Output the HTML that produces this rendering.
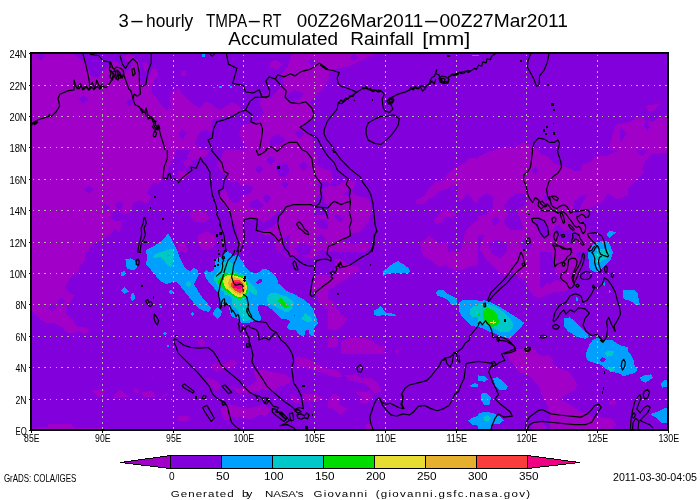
<!DOCTYPE html>
<html><head><meta charset="utf-8"><title>3-hourly TMPA-RT Accumulated Rainfall</title>
<style>html,body{margin:0;padding:0;background:#fff;overflow:hidden}svg{display:block}text{font-family:"Liberation Sans",sans-serif;fill:#000}</style></head>
<body>
<svg width="700" height="500" viewBox="0 0 700 500">
<rect width="700" height="500" fill="#fff"/>
<defs><filter id="nf" filterUnits="userSpaceOnUse" x="0" y="0" width="700" height="500"><feOffset dx="0" dy="0"/></filter><clipPath id="mc"><rect x="32" y="54" width="635" height="375"/></clipPath></defs>
<g clip-path="url(#mc)">
<rect x="30" y="52" width="640" height="380" fill="#8200dc"/>
<g shape-rendering="crispEdges">
<path fill="#a000c8" d="M28 48L178 48 178 150 28 150ZM28 150L178 150 178 252 28 252ZM478 150L628 150 628 252 478 252Z"/>
<path fill="#8200dc" d="M36.1 56.1L40.9 53.4 45.6 56.1 40.9 60.4ZM71.9 52.7L178 52.7 178 88.7 173.7 90.9 169.4 99.4 171.6 105.9 167.3 110.6 160.9 104.8 156.6 97.3 150.1 91.9 154.4 80.1 158.7 75.9 156.6 69.4 152.3 68.4 149.1 75.9 145.9 83.4 141.6 84.9 139.4 78 140.5 65.1 137.3 58.7 133 60.9 129.8 68.4 125.5 71.6 120.1 64.1 113.7 60.9 107.3 67.3 101.9 71.6 98.7 78 91.2 75.9 88 69.4 85.9 61.9 78.4 57.6ZM78.4 99.4L83.3 95.1 88 99.4 83.3 103.3ZM125.5 102.6L129.8 98.4 134.1 102.6 129.8 106.9Z"/>
<path fill="#a000c8" d="M122.3 57.6L128.7 54.4 135.1 57.6 128.7 63ZM142.6 64.1L146.9 60.9 148 68.4 144.8 71.6Z"/>
<path fill="#8200dc" d="M178 150L178 252 88 252 92.3 244.3 98.7 242.1 105.1 237.9 110.5 234.6 114.8 228.2 119.1 232.5 122.3 225 120.1 220.7 113.7 220.7 110.5 216.4 113.7 212.1 118 208.9 114.8 204.6 120.1 200.4 123.4 204.6 120.1 211.1 124.4 214.3 130.9 212.1 133 203.6 139.4 200.4 146.9 203.6 151.2 198.2 146.9 192.9 153.4 182.1 158.7 184.3 165.1 177.9 170.5 163.9 173.7 158.6 175.9 150ZM83.3 189.6L88.6 185.8 94 189.6 88.6 193.5ZM101.9 207.4L106.2 203.6 110.5 207.4 106.2 211.7Z"/>
<path fill="#a000c8" d="M178 48L328 48 328 150 178 150Z"/>
<path fill="#8200dc" d="M178 52.7L291.6 52.7 287.3 60.9 283 66.2 278.7 71.6 272.3 75.9 278.7 80.1 285.1 84.4 280.9 89.8 274.4 86.6 270.1 90.9 263.7 95.1 259.4 103.7 250.9 110.1 242.3 112.3 238 104.8 231.6 102.6 225.1 106.9 218.7 110.1 212.3 104.8 205.9 101.6 199.4 108 193 103.7 186.6 98.4 182.3 94.1 178 86.6ZM212.3 119.8L242.3 112.3 250.9 110.1 259.4 103.7 263.7 112.3 259.4 118.7 253 123 242.3 125.1 239.1 133.7 242.3 142.3 248.7 150 208 150 210.1 138 212.3 129.4Z"/>
<path fill="#a000c8" d="M244.4 130.5L249.8 125.1 255.1 130.5 249.8 135.9ZM181.2 70.5L185.5 70.5 185.5 75.9 181.2 75.9Z"/>
<path fill="#8200dc" d="M280.9 89.8L289.4 94.1 298 90.9 304.4 96.2 300.1 101.6 291.6 99.4 285.1 97.3ZM293.7 71.6L300.1 68.4 306.6 71.6 301.2 75.9ZM306.6 61.3L311.9 57.6 317.3 61.9 311.9 66.2ZM298 129.4L306.6 123 315.1 118.7 325.9 118.7 328 120.9 328 150 268 150 274.4 142.3 285.1 140.1 293.7 135.9ZM178 133.7L182.3 128.4 187 133.7 182.3 139.1ZM195.1 142.3L198.4 133.7 205.9 129.4 212.3 133.7 216.6 140.1 212.3 150 199.4 150Z"/>
<path fill="#a000c8" d="M320 52.7L377.9 52.7 369.3 60.9 362.9 64.1 359.6 67.3 352.1 68.4 341.4 71.6 330.7 75.9 326.4 86.6 320 97.3 311.4 97.3 311.4 52.7Z"/>
<path fill="#8200dc" d="M347.9 53.4L360.7 54.4 356.4 59.8 350 58.7Z"/>
<path fill="#a000c8" d="M495.7 150L502.1 147 512.9 147.9 523.6 142.3 534.3 147 540.7 150ZM610.4 142.3L615.7 125.1 620 123 620 150 609.3 150ZM616.4 126.2L622.9 123 631.4 121.9 635.7 117.6 642.1 116.6 645.4 120.9 652.9 121.9 657.1 118.7 667.4 115.5 667.4 150 607.9 150 612.1 142.3 620.7 142.3 623.9 138 627.1 133.7 622.9 129.4ZM645.4 105.9L661.4 103.3 655 110.1 648.6 111.2Z"/>
<path fill="#8200dc" d="M642.1 125.1L647.5 121.9 650.7 126.2 647.5 130.5Z"/>
<path fill="#a000c8" d="M178 150L328 150 328 252 178 252Z"/>
<path fill="#8200dc" d="M178 150L190.9 150 186.6 156.4 193 160.7 199.4 158.6 205.9 156.4 210.1 150 225.1 150 220.9 158.6 216.6 165 220.9 171.4 226.2 175.7 230.5 182.1 238 182.1 242.3 186.4 246.6 184.3 253 187.5 250.9 192.9 242.3 196.1 240.1 201.4 233.7 203.6 229.4 199.3 227.3 192.9 224.1 188.6 220.9 192.9 218.7 199.3 225.1 205.7 229.4 212.1 231.6 218.6 235.9 227.1 238 235.7 240.1 244.3 242.3 252 178 252Z"/>
<path fill="#a000c8" d="M178 171.4L184.4 170.4 189.8 174.6 184.4 178.9 178 178.9ZM182.3 161.8L188.7 158.6 193 162.9 186.6 167.1ZM189.8 212.1L197.3 210 205.9 212.1 210.1 218.6 203.7 222.9 195.1 221.8 190.9 217.5ZM197.3 235.7L205.9 231.4 214.4 234.6 216.6 242.1 212.3 248.6 203.7 250.7 198.4 244.3ZM178 244.3L184.4 242.1 188.7 252 178 252Z"/>
<path fill="#8200dc" d="M255.1 169.3L259.4 165 263.7 169.3 259.4 173.6ZM265.9 160.7L270.6 156.4 275.5 160.7 270.6 165ZM275.5 167.1L279.8 162.9 287.3 163.9 289.4 171.4 285.1 177.9 278.7 175.7ZM296.9 166.1L302.3 161.8 308.7 167.1 304.4 172.5 300.1 171.4ZM280.4 184.3L284.7 180.4 289 184.3 284.7 188.6ZM262.6 198.2L266.9 192.9 271.2 198.2 266.9 204ZM248.7 202.5L257.3 199.3 263.7 204.6 259.4 208.9 250.9 207.9ZM306.6 150L328 150 328 160.7 321.6 162.9 315.1 158.6 310.9 154.3ZM319.4 182.1L328 180 328 214.3 323.7 212.1 317.3 207.9 320.5 199.3 318.4 190.7ZM244.4 220.7L257.3 218.6 263.7 222.9 272.3 216.4 278.7 212.1 285.1 207.9 278.7 220.7 272.3 227.1 263.7 230.4 257.3 232.5 250.9 229.3 244.4 235.7 243.4 227.1ZM285.1 235.7L298 233.6 310.9 235.7 319.4 231.4 328 233.6 328 252 280.9 252ZM315.1 220.7L321.6 218.6 328 220.7 328 229.3 319.4 228.2Z"/>
<path fill="#a000c8" d="M328 180L345.1 182.1 353.7 186.4 351.6 195 358 198.2 368.7 199.3 370.9 210 368.7 220.7 364.4 227.1 360.1 231.4 353.7 233.6 347.3 229.3 340.9 231.4 334.4 233.6 328 231.4Z"/>
<path fill="#8200dc" d="M334.4 216.4L339.8 211.1 345.1 216.4 339.8 222.9Z"/>
<path fill="#a000c8" d="M328 162.9L332.3 167.1 328 171.4ZM328 244.3L340.9 242.1 353.7 244.3 366.6 242.1 370.9 246.4 366.6 252 328 252ZM415.9 203.6L416.9 199.3 424.4 196.1 428.7 188.6 435.1 182.1 443.7 180 448 173.6 454.4 168.2 465.1 162.9 470.5 157.5 478 158.6 478 203.6 473.7 201.4 467.3 192.9 460.9 201.4 456.6 196.1 458.7 186.4 452.3 185.4 445.9 189.6 439.4 190.7 435.1 196.1 426.6 200.4 424.4 203.6ZM434.1 220.7L439.4 214.3 444.8 210 452.3 211.1 456.6 214.3 452.3 218.6 445.9 216.4 441.6 222.9 436.2 223.9ZM420.1 244.3L428.7 235.7 435.1 240 439.4 244.3 448 242.1 448 252 422.3 252ZM465.1 231.4L473.7 222.9 478 220.7 478 252 460.9 252 463 242.1Z"/>
<path fill="#8200dc" d="M539.1 150L618.6 150 605.7 156.4 596.1 156.4 590.7 161.8 583.2 163.9 580 171.4 573.6 170.4 563.7 166.1 553 162.9 546.6 156.4 540.1 154.3ZM574.4 201.4L580.9 196.1 589.4 192.9 593.7 188.6 598 180 602.3 184.3 610.9 190.7 617.3 199.3 628 195 628 252 598 252 593.7 240 589.4 231.4 583 222.9 574.4 214.3ZM478 199.3L486.6 192.9 493 197.1 493 207.9 486.6 214.3 478 216.4ZM490.9 220.7L496.2 216.4 500.5 221.8 495.1 225.4ZM503.7 205.7L514.4 193.9 524.1 192.9 527.3 199.3 524.1 205.7 516.6 210 520.9 220.7 525.1 231.4 516.6 235.7 510.1 229.3 503.7 222.9 508 214.3ZM531.6 170.4L535.9 167.1 539.1 171.4 535.4 175.3ZM542.3 197.1L546.6 193.9 549.8 198.2 546.1 201.4ZM478 235.7L484.4 234.6 490.9 240 499.4 242.1 508 244.3 520.9 242.1 524.1 252 478 252ZM533.7 220.7L542.3 219.6 548.7 227.1 550.9 235.7 542.3 237.9 538 231.4ZM553 227.1L559.4 225 563.7 231.4 572.3 229.3 578.7 235.7 572.3 244.3 563.7 242.1 557.3 235.7Z"/>
<path fill="#a000c8" d="M628 150L635.7 150 642.1 156.4 648.6 150 667.4 150 667.4 152.6 650.7 154.3 644.3 162.9 642.1 169.3 644.3 172.5 637.9 177.9 631.4 185.4 628 188.6ZM628 188.6L622.9 192.9 617.5 199.3 612.1 196.1 607.9 192.9 603.6 200.4 596.1 205.7 588.6 208.9 587.5 214.3 584.3 220.7 577.9 214.3 582.1 203.6 588.6 192.9 592.9 182.1 599.3 175.7 605.7 169.3 614.3 162.9 620.7 156.4 628 150ZM31.2 252L85.9 252 84.8 260.6 79.4 265.9 78.4 273.4 70.9 276.6 66.6 284.1 65.5 289.5 74.1 295.9 70.9 301.3 65.5 305.6 66.6 314.1 73 320.6 77.3 327 84.8 327 89.1 330.2 84.8 334.5 78.4 331.3 74.1 333.4 67.6 333.4 62.3 327 53.7 322.7 45.1 322.7 39.8 318.4 34.4 314.1 31.2 309.9Z"/>
<path fill="#8200dc" d="M56.9 301.3L61.2 297.4 65.5 301.3 61.2 305.6ZM48.4 308.1L52.6 304.5 56.9 308.1 52.6 312Z"/>
<path fill="#a000c8" d="M280.9 252L289.4 256.3 285.1 260.6 280.9 256.3ZM306.6 256.3L315.1 252 328 252 328 264.9 321.6 269.1 315.1 264.9 308.7 262.7ZM315.1 279.9L323.7 275.6 328 277.7 328 303.4 321.6 301.3 317.3 294.9 319.4 288.4ZM197.3 342L201.6 338.8 205.9 343.1 201.6 346.3ZM423.4 252L478 252 478 264.9 469.4 267 460.9 270.2 452.3 269.1 445.9 264.9 439.4 267 433 262.7 428.7 258.4 423.4 256.3ZM328 258.4L340.9 259.5 347.3 263.8 351.6 267 358 265.9 360.1 271.3 351.6 273.4 347.3 278.8 340.9 282 334.4 286.3 328 290.6ZM328 329.1L336.6 330.2 343 324.9 347.3 318.4 340.9 314.1 336.6 308.8 331.2 305.6 328 303.4ZM340.9 342L349.4 337.7 366.6 337.7 370.9 342 377.3 344.1 381.6 348.4 385.9 354 340.9 354ZM328 337.7L334.4 335.6 338.7 339.9 336.6 346.3 328 348.4ZM483.4 252L539.1 252 535.9 258.4 529.4 263.8 531.6 271.3 527.3 277.7 520.9 275.6 514.4 271.3 508 269.1 501.6 264.9 495.1 262.7 488.7 258.4ZM527.3 278.8L533.7 282 542.3 288.4 546.6 283.1 551.9 285.2 556.2 286.3 553 292.7 546.6 294.9 540.1 298.1 533.7 295.9 529.4 290.6 527.3 284.1ZM550.9 252L574.4 252 578.7 258.4 580.9 267 578.7 275.6 574.4 282 570.1 287.4 563.7 284.1 559.4 277.7 555.1 271.3 554.1 262.7ZM550 284.1L556.4 279.9 562.9 282 569.3 277.7 573.6 284.1 567.1 290.6 558.6 292.7 550 290.6ZM92.3 390.4L106.2 389.7 103 395.7 97.6 396.8ZM112.6 397.9L119.1 389.7 124.4 393.6 130.9 396.8ZM133 390.4L136.2 387.6 139.4 391.4 136.2 393.6ZM141.6 392.5L152.3 390.4 156.6 396.8 143.7 397.4ZM160.9 397.4L167.3 392.5 168.4 394.6 163 398.3ZM46.2 426.8L49.4 424 70.9 424 74.1 427.9 103 428.3 103 430 28 430 28 428.3ZM151.2 377.5L153.4 376.4 153.4 380.7ZM210.1 364.6L227.3 363.6 231.6 359.3 238 362.5 231.6 367.9 223 368.9 216.6 372.1ZM205.9 377.5L214.4 379.6 220.9 385 216.6 391.4 210.1 386.1ZM229.4 386.1L238 388.2 248.7 386.1 257.3 380.7 253 371.1 263.7 370 272.3 372.1 285.1 374.3 291.6 378.6 289.4 382.9 278.7 387.1 272.3 391.4 263.7 389.3 255.1 391.4 246.6 393.6 238 392.5ZM295.9 357.1L306.6 358.2 315.1 362.5 323.7 367.9 328 368.9 328 374.3 319.4 372.1 310.9 368.9 298 366.8 294.8 361.4ZM220.9 408.6L229.4 404.3 238 406.4 246.6 408.6 257.3 406.4 263.7 404.3 270.1 408.6 268 415 259.4 415 250.9 419.3 242.3 417.1 231.6 417.1 225.1 421.4 221.9 415ZM178 416.1L188.7 416.1 188.7 420.4 178 421ZM289.4 393.6L298 397.9 302.3 404.3 293.7 402.1ZM302.3 394.6L315.1 393.6 323.7 398.9 315.1 402.1 304.4 401.1ZM199.4 342.1L203.7 341.1 204.8 345.4 200.5 346.4ZM341.9 345.4L347.3 340 370.9 340 377.3 345.4 383.7 346.4 385.9 349.6 377.3 349.6 373 346.4 355.9 346.4 349.4 351.8 344.1 350.7ZM328 368.9L336.6 370 343 376.4 336.6 377.5 328 375.4ZM345.1 375.4L355.9 374.3 362.3 378.6 370.9 377.5 377.3 382.9 381.6 391.4 375.1 393.6 369.8 388.2 365.5 383.9 355.9 381.8 349.4 380.7ZM355.9 392.5L368.7 391.4 373 397.9 366.6 404.3 360.1 403.2 361.2 397.9ZM328 400L334.4 393.6 340.9 397.9 338.7 404.3 347.3 408.6 340.9 415 332.3 408.6 328 407.5ZM394.4 350.7L398.7 349.6 397.6 355ZM365.5 424.6L370.9 423.6 371.9 428.7 365.5 428.7ZM505.9 352.9L512.3 350.7 520.9 348.6 531.6 347.5 535.9 351.8 542.3 356.1 548.7 355 553 359.3 551.9 365.7 557.3 371.1 561.6 378.6 568 381.8 574.4 383.9 576.6 388.2 570.1 392.5 563.7 395.7 559.4 390.4 555.1 386.1 550.9 389.3 553 395.7 550.9 402.1 555.1 406.4 561.6 408.6 563.7 413.9 559.4 415 550.9 413.9 546.6 404.3 542.3 395.7 539.1 387.1 533.7 380.7 527.3 374.3 518.7 372.1 514.4 365.7 510.1 360.4ZM608.7 402.1L615.1 401.1 616.2 404.3 609.8 405.4ZM598 417.1L610.9 418.2 617.3 425.7 606.6 427.9 598 425.7ZM533.7 422.5L542.3 421.4 546.6 428.7 531.6 428.7ZM550 361.4L558.6 367.9 569.3 372.1 573.6 378.6 577.9 385 571.4 391.4 565 393.6 560.7 400 569.3 404.3 577.9 410.7 586.4 412.9 592.9 417.1 605.7 421.4 614.3 428.7 550 428.7ZM608.9 401.1L614.3 400 616.4 404.3 611.1 405.4ZM290 230L350 230 348 238 336 244 328 247 327 254 331 259 342 260 348 264 356 268 350 273 342 276 336 282 330 286 322 290 316 296 312 290 313 280 315 273 315 266.4 308 266 300 262 290 256.6Z"/>
<path fill="#8200dc" d="M294 248L302 242 312 246 310 254 300 256ZM316 238L321 234 326 239 321 244ZM316 252L322 249 328 253 322 258Z"/>
<path fill="#a000c8" d="M316 297L320 300 330 300 336 306 336 314 344 318 340 324 334 318 330 310 322 306ZM420 242L430 238 430 260 424 256 421 250Z"/>
<path fill="#8200dc" d="M302.9 130L379.1 130 379.1 215 314 215 314 207.1 315.7 198.6 320.9 193.4 324.3 188.3 330.3 184.9 332.9 179.7 330.3 171.1 326 169.4 320 167.7 315.7 162.6 318.3 157.4 315.7 152.3 312.3 147.1 310.6 135.1Z"/>
<path fill="#a000c8" d="M290 130L302.9 130 310.6 135.1 312.3 147.1 315.7 152.3 318.3 157.4 315.7 162.6 320 167.7 326 169.4 330.3 171.1 332.9 179.7 330.3 184.9 324.3 188.3 320.9 193.4 315.7 198.6 314 207.1 314 215 290 215Z"/>
<path fill="#8200dc" d="M294.3 134.3L298.6 130 302.9 134.3 298.6 138.6ZM298.6 166L303.7 160.9 308.9 166 303.7 171.1ZM316.6 183.1L326.9 181.4 331.1 184.9 326.9 189.1 318.3 188.3Z"/>
<path fill="#a000c8" d="M346.6 179.7L355.1 181.4 354.3 186.6 351.7 191.7 355.1 195.1 362 196.9 368.9 198.6 370.6 205.4 372.3 215 329.4 215 328.6 205.4 324.3 202 322.6 190 330.3 184.9 334.6 186.6 341.4 183.1Z"/>
<path fill="#8200dc" d="M344 193.4L348.3 189.1 351.7 193.4 348.3 197.7ZM313 150L313 116 315 110 310 102 313 98 322 90 328 80 330 71 336 69 350 66 366 58 374 54 410 54 410 150Z"/>
<path fill="#a000c8" d="M292 54L374 54 366 58 350 66 336 69 330 71 328 80 322 90 313 98 310 102 296 104 282 108 270 116 270 100 276 92 284 84 282 74 288 66 290 58Z"/>
<path fill="#8200dc" d="M307 62L311 58 315 62 311 66ZM349 58L354 54 359 58 354 61ZM286 96L294 90 304 93 300 100 290 101Z"/>
<path fill="#a000c8" d="M270 116L282 108 296 104 310 102 315 110 313 116 300 126 306 132 313 138 313 150 270 150Z"/>
<path fill="#8200dc" d="M294 134L299 129 304 134 299 139ZM270 138L278 134 286 140 278 146 270 146ZM270 54L292 54 290 58 288 66 282 74 284 84 276 92 270 100Z"/>
<path fill="#a000c8" d="M270 62L276 60 282 64 278 69 270 68Z"/>
<path fill="#8200dc" d="M242.6 225L244.6 231.3 250.1 229.7 256.4 231.3 261.1 234.4 272.1 235.2 276.9 242.3 275.3 248.6 283.1 254.9 287.9 258.8 294.1 261.1 298.9 269 303.6 275 242.6 275ZM287.9 258.8L295.7 254.9 303.6 256.4 309.9 258.8 316.1 256.4 322.4 251.7 328.7 253.3 335 250.1 335 275 303.6 275 298.9 269 294.1 261.1ZM477 149.8L496.6 149.8 488 151.8 477 157.3Z"/>
<path fill="#a000c8" d="M484 236L490 230 540 230 540 296 530 290 528 280 520 278 512 272 504 276 496 270 490 264 484 256 480 248Z"/>
<path fill="#8200dc" d="M488 244L496 240 506 242 508 250 500 258 492 254ZM520 242L526 238 532 244 528 252 522 250Z"/>
<path fill="#00a0ff" d="M202 54.4L204.6 54.4 204.6 57.4 202 57.4ZM212.7 86.6L215.3 86.6 215.3 87.9 212.7 87.9ZM219.1 86.1L222.1 86.1 222.1 88.3 219.1 88.3ZM230.3 86.1L232 86.1 232 87.9 230.3 87.9ZM471.7 54.9L478.6 54.9 478.6 56.1 471.7 56.1ZM125.5 259.5L130.9 258.4 135.1 260.6 137.3 267 134.1 270.2 127.6 269.1 125.5 264.9ZM121.2 272.4L125.5 270.2 124.4 275.6 121.2 276.6ZM121.2 290.6L124.4 287.4 128.7 291.6 124.4 293.8ZM130.9 293.8L134.1 292.7 135.1 298.1 132.6 301.3 130.4 298.1ZM169.4 291.6L171.6 289.5 173.7 292.3 171.6 294.4ZM162.6 333.4L164.7 331.7 167.3 333.9 164.7 335.6ZM160 306.4L161.7 306.4 161.7 308.1 160 308.1ZM166.9 345L168.6 345 168.6 346.7 166.9 346.7ZM168 233L172 240 175 246 178 252 180 258 183 264 186 269 190 271 193 268 197 269 199 274 196 280 194 284 197 289 200 294 204 300 208 304 211 308 209 312 204 311 198 308 193 302 189 297 185 292 181 287 177 282 172 282 166 284 160 281 156 276 151 270 146 265 147 258 146 250 152 247 159 243 164 239Z"/>
<path fill="#00c8c8" d="M153 256L158 253 164 251 170 249 174.4 250 174 256 173 262 171 267 167 265 164 260 160 257 154 258Z"/>
<path fill="#00dc00" d="M167 254L170 255.6 167 257Z"/>
<path fill="#00c8c8" d="M186 283L189 281 191 284 189 287 186.4 286Z"/>
<path fill="#00a0ff" d="M169 292L171.2 289.2 173.5 292 171.2 294.8ZM190 314L192 312 194 314 192 316ZM213.2 312.8L215.2 309.2 217.6 307.2 220 309.2 221.8 311.6 221.2 314.8 219.2 317.2 217.2 318.8 215.2 316.8 213.4 314.8ZM204 273.2L204.8 271.6 206.4 270.4 208.8 272 212 271.2 214 269.2 214.8 264.4 215.2 259.6 217.6 258 221.2 256.4 224 254 227.6 250.8 231.2 254 233.6 256.4 236 254.8 237.6 255.6 240 258 242.4 260.8 244 263.6 245.2 266 246.4 268.4 248.8 270.4 251.2 272 253.6 272.8 256 273.5 259 272 262 269.5 265 268.5 268 270 271 272 274 274 276 277 277.5 280 278.5 283.5 281 286 284 288 286 290.5 289 292 293 293.5 296 295 299 297 302 298.5 305 300.5 308 303 310 305 312 307.5 313.5 310 314.4 312.8 315.6 315.6 316.8 318.8 317.6 322 317.6 323.6 316 325.6 314.8 326.8 314 330 313.6 333.2 313.6 335.6 311.6 336 309.6 334 308.8 330 305.6 330 305.2 333.2 304.8 335.2 302 336 299.6 335.2 297.6 333.2 296 330.4 293.2 329.6 289.6 329.6 287.6 328 287.2 326 288.8 323.6 290 322 288.4 319.6 284.4 319.2 281.2 318.8 278.8 316.4 276.4 314 274 312 271 309 268 306.5 264 305 260 304.5 258 306 258.5 311 260.5 316 260.5 320 258.4 321.6 255.2 320.8 250.4 322.4 245.6 323 241.6 322.8 239.6 322 238.4 318.8 235.2 318 232 316.4 230.4 314 229.6 310 228.8 306.8 227.2 304.8 224 305.2 219.6 305.2 220 302.8 219.6 299.6 218.8 296.4 218.4 292.4 214.8 290 213.6 287.6 211.2 284.4 208 281.2 205.6 277.2Z"/>
<path fill="#8200dc" d="M256 282.5L259 279 262 279 262 282 259 283.5 257 284ZM293.8 314.6L295 314.6 295 315.8 293.8 315.8Z"/>
<path fill="#00c8c8" d="M227.2 260.4L230.4 262 233.6 264.4 234.4 268.4 236 271.6 239.2 273.2 242.4 274 244.8 275.6 247.2 278 248.8 281.2 251.2 283.6 253.6 286 255.2 288.4 256.5 289.5 257.5 293 256.5 295 252 294 250.4 290.8 248.8 293.2 247.2 296.4 244.8 298 246.4 302 248 306 249.6 310 251.2 314 252.8 318 248.8 320.4 244 321.2 242.4 319.6 240.8 316.4 239.2 313.2 237.6 310 234.4 307.6 231.6 304.4 232 300.4 231.2 297.2 228 295.6 224 294.8 224.4 291.6 220 290 218.8 287.6 217.2 285.2 215.2 282 214 279.6 214.4 276.4 216 274 217.6 272.4 219.2 270 220 267.2 222 264.8 224 262.8Z"/>
<path fill="#00dc00" d="M228.8 272.8L232.8 273.2 237.6 274.4 241.6 275.6 244 277.6 246.4 280.8 247.6 283.6 248.4 286.8 248.4 289.2 247.6 292.4 245.6 295.6 243.2 298 240 299.2 236.8 298 233.6 296.4 230.4 294 227.2 291.6 225 290.5 223 289 220.5 286 218.4 283.6 218 280.8 219.6 278 222 275.6 224.8 274Z"/>
<path fill="#e6dc32" d="M228 274.8L232 275.2 236 276 240 277.2 243.2 278.8 245.2 281.6 246.4 284.4 246.8 287.6 247.2 287.6 246.4 290.8 244.8 294 242.4 296.4 239.2 297.2 236 296 232.8 294 229.6 291.6 227.2 289.2 225.6 288 224 285.2 223.2 282 223.6 278.8 225.2 276.4Z"/>
<path fill="#e6af2d" d="M232 277.2L236 277.6 239.2 278.4 242.4 280 244 282.4 245.2 285.2 245.6 288.4 244.8 290 243.6 292.8 241.6 294.4 239.2 294.8 236 293.2 232.8 290.8 230.4 288.4 229.6 288.4 228.4 285.2 228.4 282 229.6 279.2Z"/>
<path fill="#fa3c3c" d="M234.8 279.6L238.4 280 241.2 281.2 243.2 283.6 244 286.4 243.4 288 242.8 290.4 241.2 292.4 239.2 292.8 236 291.2 232.8 288.4 231.2 287.2 230.8 284.4 232 281.6Z"/>
<path fill="#f00082" d="M236.8 281.6L240 282.4 242 284 243.2 286.4 242.2 288 240.8 288.8 238.4 289.2 235.6 288 233.6 288.4 233.2 285.6 234.4 283.2Z"/>
<path fill="#00c8c8" d="M267 299L268 295 270.5 292.5 275 292.5 279 294 283 295.5 287 296.5 290 299 293 301.5 294.5 304 292.5 307 291 310 288 312 284 311.5 281 309.5 277.5 308 274 306 270 304 267.5 302Z"/>
<path fill="#00dc00" d="M277 300L279.5 298.5 281.5 298 283 300 285 302.5 287.5 305 289 306.5 287 307.5 285 308.5 283 306.5 281 304 278.5 302Z"/>
<path fill="#00c8c8" d="M300.8 318.8L302.8 316.4 305.6 313.2 307.6 315.2 310 316.8 312 318.4 311.6 320.8 310 322.4 307.6 322 304.8 320.8 302.4 320Z"/>
<path fill="#00a0ff" d="M382.6 271.3L385.9 269.1 391.2 264.9 397.6 261 403 263.8 408.4 268.1 410.5 272.4 403 273 396.6 273.4 390.1 273 385.9 274.5 383.3 276ZM436.2 292.7L439.4 289.5 443.7 289.5 446.9 293.8 452.3 295.9 456.6 298.1 456.6 304.5 451.2 304.5 448 300.2 442.6 297 437.3 295.9ZM373.4 310.9L377.3 308.8 380.5 306 383.7 309.9 386.9 313.1 394.4 313.7 396.1 315.9 390.1 315.9 383.7 314.6 378.4 316.3 374.7 315.2ZM459.1 302.4L463 300.2 478 300.2 478 327 471.6 325.9 466.2 320.6 461.9 316.3 459.1 310.9Z"/>
<path fill="#00c8c8" d="M470.5 308.8L473.7 305.6 478 305.6 478 317.4 472.6 317.4 469.9 314.1Z"/>
<path fill="#00a0ff" d="M478 301.3L484.4 300.2 490.9 302.4 499.4 306.6 508 312 516.6 317.4 524.1 322.7 520.9 328.1 515.5 333.4 510.1 338.8 501.6 336.6 495.1 333.4 488.7 331.3 482.3 328.1 478 327Z"/>
<path fill="#00c8c8" d="M478 304.5L486.6 303.4 495.1 306.6 503.7 312 510.1 318.4 513.4 324.9 510.1 331.3 501.6 332.4 495.1 329.1 488.7 325.9 482.3 324.9 478 323.8Z"/>
<path fill="#00dc00" d="M483.4 310.9L486.6 307.7 493 309.9 497.3 315.2 499.4 321.6 497.3 325.9 491.9 327 486.6 323.8 483.4 318.4ZM478 313.7L479.7 313.3 480.1 315.4 478 315.9Z"/>
<path fill="#e6dc32" d="M490.4 321.9L496 321.9 496 322.7 490.4 322.7ZM492.8 320.1L493.6 320.1 493.6 324.4 492.8 324.4Z"/>
<path fill="#00a0ff" d="M563.7 318.4L570.1 317.4 576.6 322.7 583 329.1 589.4 336.6 585.1 338.8 576.6 336.6 568 331.3 563.7 325.9ZM589.4 344.1L598 337.7 604.4 342 615.1 344.1 628 347.4 628 354 587.3 354Z"/>
<path fill="#00c8c8" d="M599.1 354L606.6 349.5 615.1 350.6 619.4 354Z"/>
<path fill="#00a0ff" d="M588.4 252L613 252 610.9 259.5 606.6 263.8 602.3 268.1 598 272.4 592.6 271.3 590.5 264.9 588.4 258.4Z"/>
<path fill="#00c8c8" d="M590.5 252L606.6 252 604.4 258.4 599.1 263.8 593.7 264.9 591.1 258.4Z"/>
<path fill="#00a0ff" d="M622.6 290.6L628 289.5 628 300.2 623.7 299.1ZM576.6 297L578.7 300.2 575.5 301.7ZM601.2 283.1L605.5 282 604.4 286.3ZM608.7 289.5L611.3 291.6 609.1 293.1ZM622.9 291.6L627.1 290.1 633.6 289.5 637.9 293.8 638.9 300.2 640 304.5 636.8 305.6 632.5 302.4 628.2 300.2 622.9 298.1ZM588.6 354L589.6 344.1 592.9 339.9 598.2 337.7 603.6 342 612.1 344.1 618.6 347.4 625 348.4 629.3 354Z"/>
<path fill="#00c8c8" d="M603.6 354L607.9 350.6 614.3 351 616.4 354Z"/>
<path fill="#00a0ff" d="M166.9 345.1L168.6 345.1 168.6 346.9 166.9 346.9ZM469.4 385.4L474.8 383.3 478 383.9 478 386.7 471.6 387.1ZM468.4 420.4L473.7 417.1 478 416.1 478 425.7 471.6 424.6ZM478 375.4L484.4 376.4 487.6 379.6 484.4 381.8 478 380.7ZM493 378.6L497.3 376.9 503.7 381.8 508 386.1 505.9 390.4 499.4 390.4 495.1 385ZM481.2 393.6L486.6 392.5 490.9 397.9 489.8 404.3 484.4 405.4 481.2 400ZM478 413.9L484.4 411.8 493 412.9 499.4 416.1 503.7 420.4 499.4 423.6 490.9 424.6 490.9 430 478 430Z"/>
<path fill="#00c8c8" d="M483.4 417.1L487.6 415 490.9 418.2 487.6 421.4 484 420.4Z"/>
<path fill="#00a0ff" d="M585.4 355L587.5 348.6 591.8 343.2 597.1 340 612.1 340 618.6 344.3 625 348.6 630.4 353.9 633.6 360.4 634.6 365.7 637.9 370 634.6 373.2 629.3 374.3 623.9 376.4 618.6 373.2 612.1 372.1 605.7 368.9 600.4 364.6 592.9 362.5 587.5 360.4Z"/>
<path fill="#8200dc" d="M599.7 359.3L602.5 356.7 605.7 359.3 603.6 362.5 600.4 361.4Z"/>
<path fill="#00c8c8" d="M604.6 352.9L608.9 350.7 614.3 351.1 612.1 355.4 606.8 356.7ZM607.9 367.9L612.1 366.8 615.4 370 610 371.7Z"/>
<path fill="#00a0ff" d="M640 377.5L644.3 375.4 650.7 374.3 652.9 377.5 648.6 380.7 645.4 382.9 641.1 380.7ZM660.4 383.9L663.6 380.7 667.4 379.6 667.4 387.1 662.5 387.6ZM650.7 413.9L657.1 411.8 663.6 408.6 667.4 407.5 667.4 422.5 661.4 422.5 657.1 418.2 652.9 416.1ZM607 233L609.5 231.2 613 231.5 616.8 232 614.5 233.5 612 235.5 609.5 237.5 607.5 236ZM593.5 244L597 242 602 241 607 241.5 610 244 611 248 613 252 612 256 610.5 260 608 263 605 265 603 267 600 270 590 270 589 265 589.5 260 587.5 256 588.5 253 590 250 591.5 247Z"/>
<path fill="#00c8c8" d="M592.5 256L595 253 598 250 602 249 606 248.5 608.5 250 610 253 609 256 607 258.5 603 260 600 262 597 264 595 262 593.5 259Z"/>
</g>
<path d="M31.2 126.2L32.7 123 35.5 120.9 34.4 123.4 37.6 120 43 118.3 48.4 116.6 49.4 114.4 50.5 117 55.9 112.3 59.7 105.9 58 98.4 60.1 94.1 67.6 90.9 74.1 89.8 74.1 80.1 75.6 85.5 77.3 88.7 79.4 84.4 80.5 83.4 82.6 89.8 84.1 86.6 85.9 85.5 89.1 89.8 90.6 85.5 92.3 82.3 94.4 88.7 96.1 83.4 96.6 80.1 99.8 87.6 101.9 84.4 103.4 86.6 106.2 87.6 110.5 82.3 113.7 73.7 109.4 69.4 110.5 61.9 112.6 67.3 115.9 71.6 114.8 76.9 118 80.1 119.1 74.8 122.3 78 123.4 73.7 128.7 88.7 130.9 90.9 133 99.4 135.1 104.8 139.4 106.9 141.6 111.2 144.8 112.3 146.3 108 148 117.6 151.2 116.6 154.4 120.9 153.4 125.1 156.6 129.4 158.7 127.3 160.9 135.9 163 142.3 165.1 150M82.6 52.7L84.8 60.9 86.9 69.4 89.1 80.1 90.1 88.7M90.1 54.4L98.7 55.5 103 60.9 109.4 61.9 110.5 67.3M120.1 55.5L122.3 64.1 125.5 68.4 128.7 63 133 58.7 137.3 63 139.4 73.7 139.4 82.3 140.5 94.1 137.3 96.2 134.1 94.1 133 99.4M151.2 52.7L151.2 63 148 71.6 145.9 84.4 142.6 86.1 139.4 85.5M33.4 123L36.6 120.9 37.6 122.6 34.4 124.7ZM153.4 133.7L154.9 130.5 156.6 133.3 155.5 136.9 153.4 136.3ZM156.6 126.2L158.7 125.1 159.8 128.4 157.6 129.4ZM131.9 69.4L134.1 68.4 135.1 73.7 133 75.9ZM226.2 52.7L228.4 64.1 236.9 68.4 234.8 75.9 232.6 83.4 243.4 85.5 245.5 91.9 253 93 259.4 89.8 261.6 96.2 265.9 97.7 269.1 96.2M269.1 96.2L269.7 90.9 267.6 85.5 265.9 81.2 269.1 76.9 275.5 79.1 277.6 74.8 284.1 76.9 290.5 73.7 294.8 75.9 301.2 71.6 309.8 69.4 315.1 66.2 319.4 63 328 69.4M275.5 79.1L281.9 86.6 286.2 90.9 285.1 97.3 290.5 102.6 299.1 103.7 305.5 101.6 311.9 108 314.1 114.4 311.9 118.7 306.6 123 300.1 127.3 308.7 133.7 317.3 138 320.5 144.4 323.7 150M269.1 96.2L262.6 97.3 255.1 97.3 249.8 101.6 245.5 110.1 239.1 112.3 232.6 116.6 224.1 119.8 216.6 121.9 213.4 129.4 212.3 138 208 140.1 210.1 144.4 212.3 150M245.5 110.1L251.9 114.4 250.9 121.9 256.2 124.1 260.5 123 262.6 129.4 261.6 138 259.4 150M264.8 150L271.2 146.6 275.5 150 277 151.3 278.7 150 283 145.5 289.4 142.3 296.9 142.3 302.3 150M210.1 54.4L212.3 56.1 214.4 54.4M320 65.1L326.4 69.4 332.9 70.5 339.3 72.6 337.1 78 338.2 83.4 341.4 86.6 344 87 351.9 90 356 91.9M334.6 150L330.7 144.4 326.4 139.1 323.9 133.7 324.3 129.4 327.5 120.9 332.9 114.4 337.1 109.1 338.2 102.6 341.4 103.7 347.9 98.4 354.3 94.1 360.7 89.8 363.9 87.6 369.3 89.8 374.6 89.8 377.9 91.9 381.1 90.9 384.3 94.1 382.1 99.4 383.2 108 385.4 111.2 389.6 112.3 392.9 109.1 390.7 103.7 387.5 101.6 389.6 98.4 393.9 96.2 398.2 94.1 405.7 91.9 412.1 88.7 415.4 86.6 418.6 88.7 421.8 85.5 425 87.6 429.3 83.4 431.4 78 434.6 75.9 436.8 69.4 435.7 73.7 438.9 74.8 440 78 443.2 82.3 448.6 81.2 448.6 76.9 452.9 74.8 459.3 72.6 465.7 71.1 470 70.5M440 78L441.1 82.3 445.4 83.4 448.6 81.2M366.1 128.4L368.2 123 373.6 119.8 380 116.6 386.4 116.1 393.9 114.9 399.3 118.7 398.2 125.1 395 130.5 390.7 135.9 386.4 140.1 381.1 144.4 374.6 143.4 368.2 140.1 366.1 133.7ZM470 71.6L474.3 68.4 476.4 69.4 478.6 65.1 481.8 66.2 482.9 61.9 486.1 63 487.1 58.7 490.4 59.8 491.4 56.6 495.7 53.4M531.1 52.7L527.9 60.9 527.4 67.3 531.1 73.7 534.3 80.1 536.4 86.1 539 85.5 539.6 75.9 543.9 70.5 547.1 63 549.3 52.7M532.1 150L534.3 142.3 538.6 138 543.9 139.1 549.3 142.3 554.6 142.3 557.9 140.1 559.6 143.4 557.9 150M167.3 150L167.3 158.6 164.1 167.1 163 177.9 167.3 178.9 168.4 174.6 169.9 173.6 171.6 180 174.8 178.9 178 181.1M144.8 217.5L146.3 222.9 144.1 228.2 145.4 234.6 143.3 240 141.1 244.3 139.9 252 137.7 252 139 244.3 140.7 238.9 141.6 233.6 141.1 228.2 143.3 222.9 143.7 218.1ZM178 183.2L182.3 177.9 187.6 173.6 191.9 170.4 190.9 167.1 196.2 168.2 199.4 160.7 200.5 157.5 202.6 161.8 205.9 165 210.1 172.5 209.7 176.8 210.6 180 211.2 187.5 212.3 195 215.5 203.6 217.6 212.1 216.6 214.3 219.8 220.7 220.9 227.1 224.1 235.7 225.1 244.3 226.2 252M211.2 150L216.6 156.4 221.9 162.9 224.1 171.4 228.4 173.6 224.1 180 223 188.6 218.7 190.7 219.8 197.1 225.1 203.6 229.4 210 231.6 218.6 233.7 229.3 236.9 237.9 239.1 244.3 236.9 252M240.1 252L243.4 244.3 244.4 235.7 243.4 225 244.4 219.6 250.9 218.1 257.3 219 256.9 225 256.2 230.4 263.7 232.5 270.1 232.5 274.4 235.7 278.7 241.1 281.9 237.9 283 244.3 285.1 248.6 288.4 252M281.9 237.9L279.8 231.4 277.6 222.9 278.7 216.4 283 212.1 286.2 206.8 293.7 204.6 302.3 204.6 310.9 204.6 315.1 206.8 321.6 207.4 328 207.9M315.1 206.8L319.4 203.6 321.6 197.1 320.5 190.7 321.6 184.3 318.4 180 315.1 175.7 313 167.1 311.9 158.6 306.6 151.7 302.3 150M321.6 207.4L325.9 212.1 328 218.6M296.5 223.9L299.1 221.8 302.3 225 304.4 229.3 307.6 231.4 308.7 234.6 305.5 233.6 302.3 230.4 299.1 228.2ZM256.2 150L258.4 155.4 262.6 153.2 266.9 150M332.3 150L335.5 152.1 340.9 159.6 346.2 165 350.5 169.3 355.9 173.6 360.1 176.8 363.4 183.2 367.6 188.6 370.9 195 373 203.6 374.1 214.3 375.1 225 376.9 231.4 374.1 235.7 374.1 244.3 371.9 252M323.7 150L328 156.4 334.4 162.9 337.6 170.4 343 174.6 348.4 178.9 346.2 184.3 350.5 189.6 349.4 196.1 350.5 201.4 349.4 212.1 351.6 220.7 349.4 227.1 350.5 235.7 346.2 237.9 340.9 240 334.4 244.3 328 246.4M328 207.9L331.2 203.6 334.4 201.4 340.9 204.6 346.2 202.5 350.5 201.4M532.6 150L531.6 158.6 530.5 167.1 527.3 172.5 524.1 174.6 523.4 180 526.2 185.4 527.3 192.9 529.4 198.2 532.6 202.5 535.4 197.6 539.1 200.4 538 205.7 541.2 208.9 544.4 206.1 547 203.6 549.8 206.8 551.9 210 554.7 210.4M557.3 150L558.4 154.3 560.5 160.7 561.6 167.1 558.4 172.5 553 176.8 548.7 182.1 546.6 189.6 547.6 196.1 549.8 200.4M531.6 218.6L538 218.1 544.4 220.7 547.6 227.1 548.7 234.6 544.4 237.9 540.1 232.5 536.9 225 532.6 221.8ZM526.2 238.9L529.4 237.9 530.5 242.1 527.3 244.3ZM549.7 196L550.3 200.6 551.4 205.1 553.7 207.4 557.1 208.6 558.9 206.9 561.1 205.7 564.6 205.1 567.4 206.9 568.6 209.7 570.3 213.1 572.6 212 573.1 209.7 576.6 211.4 580 210.9 583.4 210.3 586.9 209.7 589.1 211.4 589.7 214.3 588 217.1 585.7 217.7 584 215.4 581.7 214.3 578.9 216 576.6 217.1 577.7 220 580 223.4 582.9 222.9 585.1 224.6 585.7 228 585.1 231.4 583.4 233.7 581.7 231.4 580.6 228 578.9 226.3 577.1 227.4 574.3 225.7 572.6 222.9 570.9 220.6 569.1 218.3 567.4 216 565.7 213.7 563.4 212 561.1 211.4 558.3 213.1 554.9 211.4 551.4 210.3 548 210.9 544.6 210.9 541.1 210.3M552 218.3L554.3 217.1 556 218.9 555.4 221.7 553.1 222.9 552 220.6ZM561.1 212L562.9 214.9 564 218.9 564.6 222.3 563.4 223.4 562.3 220.6 561.1 217.1 560.3 214.3ZM568.6 224.6L570.3 225.1 572.6 227.4 574.3 229.7 573.1 230.3 570.9 228.6 569.1 226.3ZM572.6 233.7L575.4 233.1 578.9 234.9 580 238.3 582.3 241.7 584 244.6 582.3 245.1 580 242.9 577.7 240 575.4 238.9 573.7 241.1 572 242.9 571.4 240.6 573.1 237.7 572.6 235.4ZM554.9 232.6L557.1 231.4 558.3 234.3 557.1 237.7 556 241.1 554.3 239.4 553.7 236ZM561.1 234.9L564 234.3 564.6 236.6 562.3 237.1ZM552.6 244L554.9 243.4 557.1 245.1 559.4 246.3 562.3 248.6 566.3 249.1 569.7 248.6 571.4 250.9 572 253M587.4 233.7L591.4 233.1 595.4 232.6 598.9 234.3 601.7 236 603.4 239.4 604.6 242.9 605.1 247.4 606.9 253M587.4 233.7L588.6 236.6 590.9 239.4 593.1 241.7 595.4 244 596.6 246.3 594.9 248.6 593.7 250.9 591.4 253M540 202.3L542.3 201.1 544 203.4 546.9 205.7 545.1 206.9 542.9 205.7 541.1 204ZM551.4 196.2L554.9 196 558.3 198.3 557.1 200.6 554.3 199.4 552.6 197.7ZM136.2 260.1L138.4 259.1 139.4 262.3 138.4 265.3 136.2 264.4ZM145.4 300.9L147.6 299.6 149.1 302.4 151.2 301.7 152.7 304.5 150.1 306.6 148 304.5ZM154.4 314.1L156.1 316.3 158.7 320.6 157.4 324.9 155.5 322.7 154 318.4ZM225 250L224 252.4 222 257.2 222.8 258.8 223.6 260.4 222.4 262.8 222.8 266 222 270 221.2 272 218.8 274 216 276.4M234.8 250L234 253.2 231.2 257.2 228 260.4 226.8 263.6 225.6 267.2 224.4 270.8 223.6 274 222.8 277.6 221.2 281.2 220 285.2 219.6 288.4 218.4 292.4 218.8 296.4 219.6 299.6 220 302.8 219.6 306 220.4 308.4 221.2 306.8 221.2 304.4 222 301.2 223.2 299.2 224.4 298.8 224.8 301.2 224 304.4 224.8 306 226 302.8 226.8 304.4 228.8 304.8 230 306.4 231.2 309.2 231.6 312.4 232.4 310 233.6 311.6 235.2 314 236 316.8 237.2 314.8 238.4 314.8 239.2 318 239.6 321.2 238.4 324 239.2 326 239 329 240.5 332 242.5 330 242 327 243.5 328 245 329.5 246 332 247.5 335 249 338 249.5 340M238.4 250L238 254 236.8 257.2 235.6 260.4 234 263.6 233.2 267.6 232.8 271.6 232 274.8 231.6 277.2 232.8 280.4 234 283.6 235.6 285.2 237.6 284.8 240 284 242 284.8 243.2 286.8 243.2 290.8 243.6 294.8 245.6 296 246.8 297.2 247.6 300.4 248.4 304.4 248 307.6 247.2 308.8 246.8 311.6 248 313.6 249.2 316 251.2 317.6 253.2 319.2 255.2 320.8 258.4 321.6 262 322 266 322.5 267.5 324.5 269 327 271 329.5 273.5 331 276 332 278 335 281 340M246.8 308.8L248.4 308.4 248.8 310.8 250 313.2 251.2 315.6 252 317.6 250.4 317.2 248.8 315.2 247.6 312.8 246.8 310.8ZM245 329.5L247 326 249 325.5 250 327.5 253 328.5 256 329.5 258 332 259 337 259 340 261.5 339 264 337.6 266.5 338.5 269 340 271.5 337 274 334 276 332M222 257.5L224 256.5 224.5 258.5 222.8 259ZM288.4 252L290 256.6M290 256.6L292.4 255.6 296 258.6 300 262 304 264.4 308 266 312 265.6 315 266.4 314.4 270 315.6 273 313.6 277 312 282 311.2 288 310 294.4 311.6 296.4 313.6 295.6 316 292 322 287 327 283.6 330 281 333 278 331 277 332.4 274.4 330 273 333 271 335 273 337 269 335.6 267 339 265.6 340 263 342 266 344 267 350 265 356 261 362 257 368 254 371 251 373 246 374 240 375 234 377 230M293 263L294.4 261 296 263 297 267 298 270 295.6 269.6 294 267.6ZM315 266.4L316 261 320 259.6 326 259 331 261 331 258 327 254 328 247M338 264.4L340.4 262 341.6 265 342.4 267 340 268ZM480 321.6L478 326 474 331 470 336 469.4 340M487.6 300.2L490.9 292.7 497.3 286.3 503.7 279.9 509.1 273.4 513.4 267 517.6 261.6 519.8 255.2 520.9 252M520.9 252L523 256.3 524.7 263.8 524.1 265.9 518.7 270.2 512.3 276.6 506.9 283.1 499.4 289.5 493 295.9 488.7 301.3 487.6 300.2M521.9 263.8L524.1 262.7 525.6 265.3 523.4 266.6ZM484 303.4L485.5 303 485.7 306.6 484 306.9ZM478 323.8L480.1 321.6 482.3 324.9 485.5 320.6 487.6 323.8 489.8 325.9 491.9 331.3 493 337.7 499.4 336.6 505.9 338.8 510.1 342 514.4 346.3 515.5 350.6 510.1 352.7 503.7 354M497.3 337.7L499.4 339.4 498.4 341.6 496.9 339.9ZM553 320.6L555.1 312 559.4 305.6 565.9 302.4 570.1 295.9 575.5 293.8 580.9 295.9 583 302.4 587.3 300.2 591.6 293.8 594.8 287.4 598 288.4 602.3 284.1 604.4 277.7 607.6 279.9 610.9 284.1 615.1 291.6 617.3 300.2 619.4 306.6 620.5 314.1 617.3 320.6 614.1 325.9 615.1 331.3 611.9 324.9 608.7 317.4 606.6 321.6 607.6 329.1 606.6 336.6 603.4 342 600.1 337.7 596.9 334.5 591.6 335.6 586.2 331.3 583 324.9 585.1 318.4 589.4 313.1 585.1 308.8 578.7 307.7 574.4 312 570.1 309.9 565.9 314.1 563.7 309.9 560.5 313.1 557.3 318.4 554.1 321.6ZM552.6 325.9L556.2 324.4 559.4 326.6 557.3 329.1 553.4 328.7ZM539.7 336L543.4 335.1 546.6 336.6 543.4 338.1 540.1 337.7ZM525.1 348.4L528.4 347.4 530.5 349.5 528.4 351.6 525.6 351ZM552.6 245L556 246.1 559.4 245.6 562.9 247.3 567.4 249.6 570.9 248.4 571.4 251.9 570.3 254.7 567.4 256.4 565.7 259.9 562.9 262.1 559.4 263.3 557.1 264.4 554.9 266.7 554.3 262.1 554.9 256.4 555.4 250.7 554.3 247.3ZM562.3 263.9L564 262.1 565.1 263.9 564.2 266.1 562.6 265.8ZM568.6 259.9L572 258.1 575.4 258.7 577.1 261 576.6 265 574.9 269 573.1 273.6 572 278.1 573.1 281.6 574.3 284.4 572.6 287.3 569.7 288.4 568 286.1 566.9 283.3 564.6 281.6 562.3 279.9 560.6 277.6 561.1 274.7 562.9 273 565.7 271.9 567.4 269 568 265ZM574.3 274.1L576.6 269.6 578.9 265.6 580.6 262.1 581.7 258.7 582.3 255.3 583.4 253 584.3 255.3 584 259.9 582.9 263.9 581.1 267.9 579.4 271.3 577.7 275.3 576 279.3 574.3 282.7 573.1 281.6 573.7 277.6ZM580.6 275.3L582.9 273 585.7 271.5 589.1 271.9 591.4 274.1 590.9 277 588.6 279.1 585.1 279.5 582.3 279.1 580.6 277.6ZM591.4 245L590.3 247.3 588 249.6 589.7 251.3 592 250.1 593.1 247.9 594.9 246.1M605.1 245L605.7 248.4 606.9 251.9 608.6 255.9 607.4 257 605.1 255.9 602.9 255.3 600.6 254.1 599.4 251.9 598.9 248.4 597.7 246.1 597.1 245M592 251.9L593.7 255.3 594.9 258.7 594.6 262.1 595.4 265.6 596.6 269 598.3 271.3 600 272.4 601.1 270.7 600 267.9 598.9 264.4 598.5 261 599.4 257.6 601.7 255.9M604.6 267.3L606.3 266.1 607.4 268.4 606.9 271.9 605.4 272.4 604.6 269.6ZM611.4 273.6L612.9 273 613.7 275.3 612.6 277.6 611.4 276.4ZM576 285L577.7 284.1 579.1 285.6 577.9 287.1 576.3 286.7ZM592.6 285.6L593.7 285 594.3 287.3 592.8 287.9ZM178 340L174.4 338.9 173.7 341.7 175.9 346.4 178 352.4M178 341.1L184.4 345.4 190.9 347.5 199.4 348.1 208 347.5 213.4 351.8 217.6 358.2 220.9 364.6 226.2 370 232.6 375.4 240.1 381.8 244.4 387.1 249.8 392.5 256.2 395.7 258.4 401.1 255.6 395.3 259.4 396.1 262.6 398.9 264.8 403.2 268 397.9 270.1 402.1 273.4 406.4 278.7 407.5 275.5 411.8 280.9 412.9 285.1 416.1 289.4 420.4 285.1 423.6 279.8 425.7 287.3 424.6 293.7 427.9 295.4 430M178 352.9L184.4 359.3 190.9 365.7 197.3 372.1 203.7 379.6 209.1 386.1 212.3 393.6 217.6 398.9 224.1 402.1 227.3 406.4 229.4 415 231.6 422.5 235.9 426.8 240.1 429.6M248.7 340L250.9 346.4 253 355 251.9 361.4 255.1 367.9 259.4 374.3 263.7 380.7 266.9 386.1 272.3 391.4 278.7 396.8 285.1 402.1 291.6 406.4 294.8 409.6 299.1 407.5 303.4 408.6 302.3 402.1 301.2 395.7 298 389.3 293.7 382.9 292.6 374.3 291.6 367.9 293.7 361.4 292.6 355 289.4 348.6 285.1 343.2 280.9 340M294.8 410.7L298 409.6 301.2 411.8 298 413.3ZM296.9 415L301.2 413.9 304.4 416.1 306.6 412.9 309.1 415 307.6 418.9 304.4 417.6 301.2 419.3 298 418.2ZM289.4 413.9L292.6 412.9 293.7 419.7 291.1 421 289.9 417.1ZM272.3 408.6L276.6 409.6 279.8 413.9 283 417.1 286.2 419.7 284.1 421.4 279.8 418.2 275.5 415 272.3 411.8ZM278.7 411.8L281.9 412.4 284.7 415.4 287.3 417.6 285.6 418.9 282.6 416.1ZM182.3 385.4L184.4 383.9 194.1 391.4 193 393.1 183.4 387.6ZM202.6 407.5L206.9 405.4 214.4 418.2 211.2 421.4 204.8 411.8ZM202 398.3L203.7 395.3 205.9 396.1 205.4 398.7ZM221.9 403L224.7 402.1 225.6 404.3 223 405.1ZM221.9 386.1L225.1 385 231.6 392.5 228.4 393.6ZM246.6 343.9L248.7 343.2 249.4 346.9 247 347.5ZM262.6 398.3L265.9 397.4 268.4 401.1 266.9 403.9 263.7 402.1ZM469.4 340L465.1 343.2 461.9 348.6 458.7 350.7 456.6 352.9 453.4 353.9 450.1 357.1 444.8 358.2 441.6 360.4 439.4 365.7 435.1 371.1 430.9 376.4 426.6 380.7 418 382.9 409.4 385 405.1 388.2 401.9 393.6 403 398.9 400.9 404.3 403 408.6 398.7 407.5 394.4 405.4 390.1 403.2 385.9 404.3 381.6 402.1 379.4 397.9 376.2 400 374.1 404.3 371.9 410.7 369.8 417.1 370.9 423.6 373 429.6M379.4 397.9L382.6 405.4 386.9 410.7 391.2 415 396.6 416.1 403 413.9 409.4 415 413.7 411.8 418 406.4 424.4 405.4 430.9 408.6 437.3 410.7 443.7 408.6 449.1 405.4 452.3 400 454.4 394.6 458.7 391.4 460.9 385 464.1 378.6 465.1 370 466.2 363.6 471.6 362.5 478 361.4M441.6 360.4L445.9 359.3 446.9 363.6 450.1 366.8 452.3 362.5 453.4 355M456.6 352.9L457.6 360.4 459.8 362.5 459.1 355M356.9 367.9L360.1 364.6 362.7 367.9 361.2 372.1 358 371.7ZM400.9 394.6L403 396.1 401.9 404.3 404.1 409M497.3 340L505.9 341.1 513.4 345.4 515.5 348.6 508 351.8 501.6 353.9 504.8 360.4 499.4 362.5 495.1 365.7 490.9 366.8 493 363.6 486.6 362.5 478 361.4M490.9 366.8L488.7 372.1 490.9 377.5 493 382.9 496.2 389.3 498.4 394.6 495.1 398.9 499.4 403.2 504.8 407.5 510.1 411.8 512.3 416.1 503.7 417.1 498.4 413.9 495.1 418.2 491.9 425.7 490.9 429.6M491.3 362.5L494.1 361.4 496.2 364.6 493 366.1ZM525.1 429.6L526.2 422.5 529.4 417.1 533.7 413.9 538 410.7 542.3 409.6 546.6 411.8 550.9 413.9 559.4 415 570.1 416.1 580.9 417.1 587.3 413.9 591.6 409.6 594.8 405.4 599.1 404.3 601.2 407.5 598 411.8 594.8 417.1 591.6 422.5 585.1 424.6 574.4 424.6 563.7 423.6 553 422.5 542.3 421.4 533.7 422.5 529.4 424.6 527.3 429.6M524.7 349.6L526.9 347.7 529.9 347.1 530.5 349 527.7 350.3 525.6 351.1ZM600.1 340L602.3 342.1 604.4 340M622 361.4L623.7 359.3 625.4 362.5 624.6 366.8 622.6 370 621.1 366.8ZM630.4 429.6L631 419.3 632.5 410.7 634.6 402.1 637.9 396.8 640 394.6 641.1 397.9 638.9 403.2 636.8 408.6 640 412.9 644.3 407.5 647.5 405.4 650.3 407.5 647.5 412.9 643.2 417.1 640 420.4 644.3 422.5 649.6 424.6 652.9 427.9M632.5 429.6L633.1 422.5 635.7 418.2 638.9 421.4 637.9 429.6M631.4 416.1L634 412.9 635.7 415 633.6 418.2ZM644.3 391.4L647.5 389.3 649.6 392.5 647.5 397.9 644.3 398.9 643.2 394.6ZM601.4 340L603.1 342.1 604.6 340M76 87L79 89 81 86 83.6 89.6 86 87 89 90 91.6 87 94 89.6 97 86.4 100 89 103 86M109 69L111 73 110 77 112.4 80 114 75 116 79 118 74 117 70 120 73 122 77 124 74 123 70 120 68 117 67 114 69 111.6 67M112.4 72L115 71 116 75 113.6 76ZM118 75L120 74 121 78 118.6 78.4ZM140 108L143 110 142 113 145 112 146 116 149 115 148 119 151.6 118 153 122 156 121 155 125 158.4 126 157.6 130 154 129 152 126M409 90L411 87 413 90 415 87.6 418 89 420 86 422.4 91 425 89 427 85 430 84 432 81 434 84 436 79M439 78L442 76 446 77 449 79 448 83 444 83.6 440 82ZM442 78L445 79 444.4 82 441.6 81ZM450 76L452.4 73.6 454 75.6 458 74.4 459.6 72 461 73.6 464 73 466 71 468 72.4 470 71.6M389.6 100L392 97 394 100 392.4 103 390 102ZM370 90L373 91.6 376 90 379 92 378.4 89.6 381 91M339 102.4L341 100 343 101.6 345.6 98 348 99.2 350 95.6 353 96.4 355 93 358 91M362 87L364 89 366 86.4 368.4 89.6 371 88M387 101L390 98 392.4 100 391 103.6 388.4 104Z" stroke="#000" stroke-width="1.2" fill="none" stroke-linejoin="round"/>
<path d="M447.3 54.8L449.9 54.8 449.9 57.4 447.3 57.4ZM371.7 99.3L373.3 99.3 373.3 100.9 371.7 100.9ZM353.5 99.7L355.1 99.7 355.1 101.3 353.5 101.3ZM520 59.8L522 59.8 522 61.9 520 61.9ZM551.2 103.1L553.8 103.1 553.8 105.7 551.2 105.7ZM553.2 109.1L555.3 109.1 555.3 111.2 553.2 111.2ZM552.8 122.6L554.4 122.6 554.4 124.2 552.8 124.2ZM545.8 126.2L548.4 126.2 548.4 128.3 545.8 128.3ZM542.9 129.4L545 129.4 545 131.5 542.9 131.5ZM545 132.9L547.1 132.9 547.1 134.5 545 134.5ZM552.5 132.4L554.6 132.4 554.6 135 552.5 135ZM547.4 84.1L549 84.1 549 85.7 547.4 85.7ZM154.3 195.9L155.9 195.9 155.9 197.5 154.3 197.5ZM149.8 207.2L151.4 207.2 151.4 209.3 149.8 209.3ZM161.9 218.4L164 218.4 164 220 161.9 220ZM144.4 240.7L146.5 240.7 146.5 242.8 144.4 242.8ZM277.4 166.3L280 166.3 280 168.9 277.4 168.9ZM215.9 233.7L218.1 233.7 218.1 236.8 215.9 236.8ZM219.4 232.3L221.5 232.3 221.5 234.9 219.4 234.9ZM220.6 238.7L223.2 238.7 223.2 241.3 220.6 241.3ZM216.6 242.2L218.7 242.2 218.7 244.3 216.6 244.3ZM221.9 243.8L224.1 243.8 224.1 246.9 221.9 246.9ZM219 223.7L220.6 223.7 220.6 226.3 219 226.3ZM213.2 198.9L214.8 198.9 214.8 200.5 213.2 200.5ZM216.8 210.7L218.4 210.7 218.4 212.8 216.8 212.8ZM333.4 150.7L335.5 150.7 335.5 152.8 333.4 152.8ZM528 213.5L530 213.5 530 215.1 528 215.1ZM523 248.6L525.1 248.6 525.1 250.7 523 250.7ZM580.5 221.5L584.1 221.5 584.1 223.6 580.5 223.6ZM140.5 285.2L142.6 285.2 142.6 287.3 140.5 287.3ZM139 251.8L141.1 251.8 141.1 253.4 139 253.4ZM152.6 296.4L154.2 296.4 154.2 298.5 152.6 298.5ZM243.2 276.3L245.6 276.3 245.6 278.9 243.2 278.9ZM243.1 279.6L246.2 279.6 246.2 281.2 243.1 281.2ZM243.8 278.9L245.4 278.9 245.4 281.9 243.8 281.9ZM217.5 249.5L219.3 249.5 219.3 251.3 217.5 251.3ZM217.9 252.6L219.7 252.6 219.7 254.7 217.9 254.7ZM217.5 258.2L219.3 258.2 219.3 261.8 217.5 261.8ZM213.7 258.6L215.5 258.6 215.5 260.6 213.7 260.6ZM213.7 264.6L215.5 264.6 215.5 266.6 213.7 266.6ZM217.3 263.9L219.1 263.9 219.1 266.1 217.3 266.1ZM369.6 264.1L371.2 264.1 371.2 265.9 369.6 265.9ZM336.7 292.6L338.5 292.6 338.5 294.6 336.7 294.6ZM453.1 351.5L455.7 351.5 455.7 353.1 453.1 353.1ZM503.5 319.3L506.1 319.3 506.1 321.9 503.5 321.9ZM175.4 335.3L177.5 335.3 177.5 336.9 175.4 336.9ZM311.8 413.7L313.4 413.7 313.4 416.3 311.8 416.3ZM305.3 426.1L307.9 426.1 307.9 428.7 305.3 428.7ZM195.4 396.4L197 396.4 197 398.5 195.4 398.5ZM302.1 384.8L304.7 384.8 304.7 387.4 302.1 387.4ZM603.7 370.6L605.1 370.6 605.1 373.7 603.7 373.7ZM602.6 386.9L604.2 386.9 604.2 389.5 602.6 389.5ZM601.5 391.4L603.1 391.4 603.1 393.6 601.5 393.6Z" fill="#000" shape-rendering="crispEdges"/>
<path d="M102.5 429V54M173.5 429V54M243.5 429V54M314.5 429V54M385.5 429V54M456.5 429V54M526.5 429V54M597.5 429V54" stroke="#b4b4aa" stroke-width="1" stroke-dasharray="1.8 3.6" fill="none" shape-rendering="crispEdges"/>
<path d="M32 399.5H667M32 367.5H667M32 336.5H667M32 304.5H667M32 273.5H667M32 242.5H667M32 210.5H667M32 179.5H667M32 147.5H667M32 116.5H667M32 85.5H667" stroke="#b4b4aa" stroke-width="1" stroke-dasharray="1.6 4.15" stroke-dashoffset="-0.5" fill="none" shape-rendering="crispEdges"/>
</g>
<path d="M31 53H668V430H31Z" stroke="#000" stroke-width="2" fill="none" shape-rendering="crispEdges"/>
<path d="M31.5 431V433M102.5 431V433M173.5 431V433M243.5 431V433M314.5 431V433M385.5 431V433M456.5 431V433M526.5 431V433M597.5 431V433M668.5 431V433M29 430.5H30M29 399.5H30M29 367.5H30M29 336.5H30M29 304.5H30M29 273.5H30M29 242.5H30M29 210.5H30M29 179.5H30M29 147.5H30M29 116.5H30M29 85.5H30M29 53.5H30" stroke="#000" stroke-width="1" fill="none" shape-rendering="crispEdges"/>
<g filter="url(#nf)">
<text x="118.6" y="26.6" font-size="18.5" textLength="10.3" lengthAdjust="spacingAndGlyphs">3</text>
<text x="129.2" y="26.6" font-size="18.5" textLength="15.4" lengthAdjust="spacingAndGlyphs">-</text>
<text x="146" y="26.6" font-size="18.5" textLength="47.3" lengthAdjust="spacingAndGlyphs">hourly</text>
<text x="206" y="26.6" font-size="18.5" textLength="41.1" lengthAdjust="spacingAndGlyphs">TMPA</text>
<text x="246.8" y="26.6" font-size="18.5" textLength="15" lengthAdjust="spacingAndGlyphs">-</text>
<text x="262.6" y="26.6" font-size="18.5" textLength="18.8" lengthAdjust="spacingAndGlyphs">RT</text>
<text x="296.8" y="26.6" font-size="18.5" textLength="126.5" lengthAdjust="spacingAndGlyphs">00Z26Mar2011</text>
<text x="422.7" y="26.6" font-size="18.5" textLength="17.3" lengthAdjust="spacingAndGlyphs">-</text>
<text x="439.4" y="26.6" font-size="18.5" textLength="128.6" lengthAdjust="spacingAndGlyphs">00Z27Mar2011</text>
<text x="228.3" y="44.6" font-size="17.5" textLength="109.7" lengthAdjust="spacingAndGlyphs">Accumulated</text>
<text x="350.3" y="44.6" font-size="17.5" textLength="63.4" lengthAdjust="spacingAndGlyphs">Rainfall</text>
<text x="422.3" y="44.6" font-size="17.5" textLength="48" lengthAdjust="spacingAndGlyphs">[mm]</text>
<text x="15.5" y="434.7" font-size="10.2" textLength="11.2" lengthAdjust="spacingAndGlyphs">EQ</text>
<text x="15.5" y="403.7" font-size="10.2" textLength="11.2" lengthAdjust="spacingAndGlyphs">2N</text>
<text x="15.5" y="371.7" font-size="10.2" textLength="11.2" lengthAdjust="spacingAndGlyphs">4N</text>
<text x="15.5" y="340.7" font-size="10.2" textLength="11.2" lengthAdjust="spacingAndGlyphs">6N</text>
<text x="15.5" y="308.7" font-size="10.2" textLength="11.2" lengthAdjust="spacingAndGlyphs">8N</text>
<text x="9.4" y="277.7" font-size="10.2" textLength="17.3" lengthAdjust="spacingAndGlyphs">10N</text>
<text x="9.4" y="246.7" font-size="10.2" textLength="17.3" lengthAdjust="spacingAndGlyphs">12N</text>
<text x="9.4" y="214.7" font-size="10.2" textLength="17.3" lengthAdjust="spacingAndGlyphs">14N</text>
<text x="9.4" y="183.7" font-size="10.2" textLength="17.3" lengthAdjust="spacingAndGlyphs">16N</text>
<text x="9.4" y="151.7" font-size="10.2" textLength="17.3" lengthAdjust="spacingAndGlyphs">18N</text>
<text x="9.4" y="120.7" font-size="10.2" textLength="17.3" lengthAdjust="spacingAndGlyphs">20N</text>
<text x="9.4" y="89.7" font-size="10.2" textLength="17.3" lengthAdjust="spacingAndGlyphs">22N</text>
<text x="9.4" y="57.7" font-size="10.2" textLength="17.3" lengthAdjust="spacingAndGlyphs">24N</text>
<text x="24.1" y="442.2" font-size="10.2" textLength="15.4" lengthAdjust="spacingAndGlyphs">85E</text>
<text x="95.1" y="442.2" font-size="10.2" textLength="15.4" lengthAdjust="spacingAndGlyphs">90E</text>
<text x="166.1" y="442.2" font-size="10.2" textLength="15.4" lengthAdjust="spacingAndGlyphs">95E</text>
<text x="233.4" y="442.2" font-size="10.2" textLength="20.8" lengthAdjust="spacingAndGlyphs">100E</text>
<text x="304.4" y="442.2" font-size="10.2" textLength="20.8" lengthAdjust="spacingAndGlyphs">105E</text>
<text x="375.4" y="442.2" font-size="10.2" textLength="20.8" lengthAdjust="spacingAndGlyphs">110E</text>
<text x="446.4" y="442.2" font-size="10.2" textLength="20.8" lengthAdjust="spacingAndGlyphs">115E</text>
<text x="516.4" y="442.2" font-size="10.2" textLength="20.8" lengthAdjust="spacingAndGlyphs">120E</text>
<text x="587.4" y="442.2" font-size="10.2" textLength="20.8" lengthAdjust="spacingAndGlyphs">125E</text>
<text x="658.4" y="442.2" font-size="10.2" textLength="20.8" lengthAdjust="spacingAndGlyphs">130E</text>
<g shape-rendering="crispEdges" stroke="#000" stroke-width="1">
<path d="M170.5 455.5L120.5 462.5L170.5 468.5Z" fill="#a000c8"/>
<rect x="170.5" y="455.5" width="51.0" height="13.0" fill="#8200dc"/>
<rect x="221.5" y="455.5" width="51.0" height="13.0" fill="#00a0ff"/>
<rect x="272.5" y="455.5" width="51.0" height="13.0" fill="#00c8c8"/>
<rect x="323.5" y="455.5" width="51.0" height="13.0" fill="#00dc00"/>
<rect x="374.5" y="455.5" width="51.0" height="13.0" fill="#e6dc32"/>
<rect x="425.5" y="455.5" width="51.0" height="13.0" fill="#e6af2d"/>
<rect x="476.5" y="455.5" width="51.0" height="13.0" fill="#fa3c3c"/>
<path d="M527.5 455.5L579.5 462.5L527.5 468.5Z" fill="#f00082"/>
</g>
<text x="168.9" y="479.6" font-size="11" textLength="5.6" lengthAdjust="spacingAndGlyphs">0</text>
<text x="215.9" y="479.6" font-size="11" textLength="13.6" lengthAdjust="spacingAndGlyphs">50</text>
<text x="263.9" y="479.6" font-size="11" textLength="19.6" lengthAdjust="spacingAndGlyphs">100</text>
<text x="314.9" y="479.6" font-size="11" textLength="19.6" lengthAdjust="spacingAndGlyphs">150</text>
<text x="365.9" y="479.6" font-size="11" textLength="19.6" lengthAdjust="spacingAndGlyphs">200</text>
<text x="416.9" y="479.6" font-size="11" textLength="19.6" lengthAdjust="spacingAndGlyphs">250</text>
<text x="467.9" y="479.6" font-size="11" textLength="19.6" lengthAdjust="spacingAndGlyphs">300</text>
<text x="518.9" y="479.6" font-size="11" textLength="19.6" lengthAdjust="spacingAndGlyphs">350</text>
<text x="3.9" y="481.6" font-size="10.6" textLength="72.5" lengthAdjust="spacingAndGlyphs">GrADS: COLA/IGES</text>
<text x="613" y="480.8" font-size="10" textLength="84" lengthAdjust="spacingAndGlyphs">2011-03-30-04:05</text>
<text transform="translate(170.7 497.2) scale(1.18 1)" font-size="9.8" textLength="53.3" lengthAdjust="spacing">Generated</text>
<text transform="translate(242.1 497.2) scale(1.18 1)" font-size="9.8" textLength="8.6" lengthAdjust="spacing">by</text>
<text transform="translate(265 497.2) scale(1.18 1)" font-size="9.8" textLength="32.7" lengthAdjust="spacing">NASA's</text>
<text transform="translate(313.6 497.2) scale(1.18 1)" font-size="9.8" textLength="45.3" lengthAdjust="spacing">Giovanni</text>
<text transform="translate(375.7 497.2) scale(1.18 1)" font-size="9.8" textLength="130.8" lengthAdjust="spacing">(giovanni.gsfc.nasa.gov)</text>
</g>
</svg>
</body></html>
